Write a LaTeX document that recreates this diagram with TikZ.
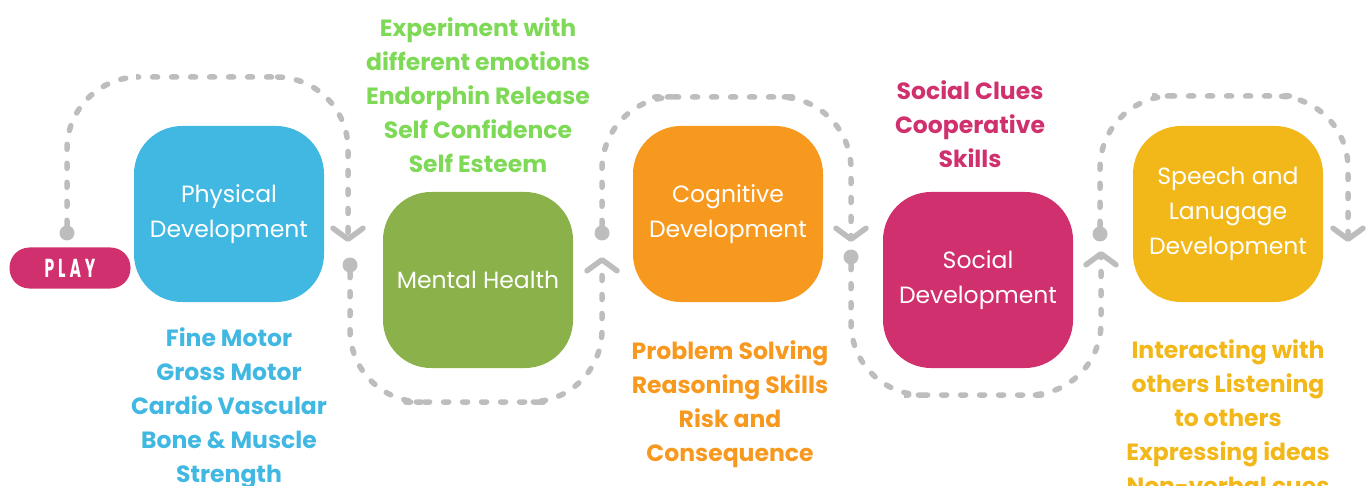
\documentclass[tikz,border=0pt]{standalone}
\usepackage{graphicx}
\usepackage{fontspec}
\setmainfont{Poppins}
\usetikzlibrary{arrows.meta}
\definecolor{physblue}{HTML}{41B8E2}
\definecolor{mentgreen}{HTML}{8BB14B}
\definecolor{notegreen}{HTML}{7ED957}
\definecolor{cogorange}{HTML}{F8991F}
\definecolor{socpink}{HTML}{D1306F}
\definecolor{speechyellow}{HTML}{F2B718}
\definecolor{trailgray}{HTML}{BDBDBD}
\tikzset{
    box/.style={minimum width=190pt, minimum height=176pt, rounded corners=48pt,
      align=center, text=white, inner sep=0pt, font=\fontsize{23.5}{35}\selectfont},
    note/.style={align=center, font=\fontsize{23.5}{34}\selectfont\bfseries},
    dot/.style={circle, fill=trailgray, inner sep=0pt, minimum size=15pt},
    trail/.style={draw=trailgray, line width=5.5pt, line cap=round,
      dash pattern=on 5pt off 14pt, rounded corners=72pt,
      -{Straight Barb[length=11pt, width=30pt, round]}},
  }

\begin{document}
\begin{tikzpicture}[x=1pt, y=-1pt]
				  \useasboundingbox (0,0) rectangle (1370,486);
				  %boites
				  \node[box, fill=physblue] (phys) at (229,214) {Physical\\Development};
				  \node[box, fill=mentgreen] (ment) at (478,280) {Mental Health};
				  \node[box, fill=cogorange] (cog) at (728,214) {Cognitive\\Development};
				  \node[box, fill=socpink] (soc) at (978,280) {Social\\Development};
				  \node[box, fill=speechyellow] (speech) at (1228,214) {Speech and\\Lanugage\\Development};
				  \node[fill=socpink, text=white, minimum width=121pt, minimum height=41pt, rounded corners=20pt,
				        font=\fontsize{26}{26}\selectfont\bfseries\addfontfeatures{LetterSpace=25}] (play) at (70,268) {\scalebox{0.6}[1]{PLAY}};
				  
				  %points et fleches
				  \node[dot] (d1) at (67,233) {};
				  \node[dot] (d2) at (350,265) {};
				  \node[dot] (d3) at (602,233) {};
				  \node[dot] (d4) at (851,257) {};
				  \node[dot] (d5) at (1100,234) {};
				  \coordinate (c1) at (348,242);
				  \coordinate (c2) at (602,257);
				  \coordinate (c3) at (851,242);
				  \coordinate (c4) at (1101,251);
				  \coordinate (c5) at (1348,242);
				  \coordinate (t1) at (208,77);
				  \coordinate (b2) at (476,402);
				  \coordinate (t3) at (726,97);
				  \coordinate (b4) at (976,395);
				  \coordinate (t5) at (1224,96);
				  
				  \draw[trail] (d1) |- (t1) -| (c1);
				  \draw[trail] (d2) |- (b2) -| (c2);
				  \draw[trail] (d3) |- (t3) -| (c3);
				  \draw[trail] (d4) |- (b4) -| (c4);
				  \draw[trail] (d5) |- (t5) -| (c5);
				  
				  %textes
				  \node[note, text=physblue] (physnote) at (229,408) {Fine Motor\\Gross Motor\\Cardio Vascular\\Bone \& Muscle\\Strength};
				  \node[note, text=notegreen] (mentnote) at (478,95) {Experiment with\\different emotions\\Endorphin Release\\Self Confidence\\Self Esteem};
				  \node[note, text=cogorange] (cognote) at (730,404) {Problem Solving\\Reasoning Skills\\Risk and\\Consequence};
				  \node[note, text=socpink] (socnote) at (970,124) {Social Clues\\Cooperative\\Skills};
				  \node[note, text=speechyellow] (speechnote) at (1228,417) {Interacting with\\others Listening\\to others\\Expressing ideas\\Non-verbal cues};
				  \end{tikzpicture}
\end{document}
